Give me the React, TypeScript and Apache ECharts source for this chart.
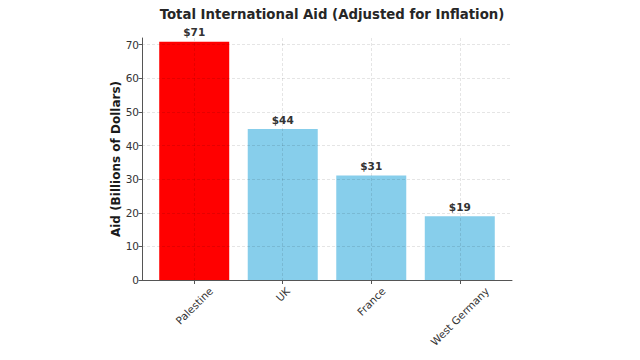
import React, { useEffect, useRef } from "react";
import * as echarts from "echarts";

const categories = ["Palestine", "UK", "France", "West Germany"];
const values = [70.9, 44.9, 31.1, 19.0];
const valueLabels = ["$71", "$44", "$31", "$19"];
const barColors = ["#ff0000", "#87ceeb", "#87ceeb", "#87ceeb"];
const yTicks = [0, 10, 20, 30, 40, 50, 60, 70];
const xPositions = [0, 1, 2, 3];

const FONT = "DejaVu Sans";
const XFS = 10.5;

function measure(text: string, size: number): number {
  const c = document.createElement("canvas").getContext("2d");
  if (!c) return text.length * size * 0.6;
  c.font = `${size}px "${FONT}"`;
  return c.measureText(text).width;
}

export default function App() {
  const ref = useRef<HTMLDivElement>(null);
  useEffect(() => {
    const chart = echarts.init(ref.current!, null, { renderer: "svg" });
    const gridColor = "rgba(0,0,0,0.1)";
    const rich: Record<string, any> = {};
    categories.forEach((c, i) => {
      const w = measure(c, XFS);
      rich["p" + i] = {
        fontFamily: FONT,
        fontSize: XFS,
        color: "#333",
        padding: [w * 0.5, w * 0.5, 0, 0],
      };
    });
    chart.setOption({
      animation: false,
      backgroundColor: "#ffffff",
      title: {
        text: "Total International Aid (Adjusted for Inflation)",
        left: 327,
        textAlign: "center",
        top: 3,
        textStyle: {
          fontFamily: FONT,
          fontSize: 13.3,
          fontWeight: "bold",
          color: "#262626",
        },
      },
      grid: { left: 142, right: 128, top: 38, bottom: 80 },
      xAxis: {
        type: "value",
        min: -0.59,
        max: 3.59,
        z: 10,
        axisLine: { show: true, onZero: false, lineStyle: { color: "#555", width: 1 } },
        axisTick: {
          show: true,
          customValues: xPositions,
          length: 4,
          lineStyle: { color: "#555" },
        },
        axisLabel: {
          customValues: xPositions,
          formatter: (v: number) => {
            const i = Math.round(v);
            return categories[i] ? `{p${i}|${categories[i]}}` : "";
          },
          rich,
          rotate: 45,
          align: "center",
          verticalAlign: "middle",
          fontFamily: FONT,
          fontSize: XFS,
          color: "#333",
          margin: 9,
        },
        splitLine: {
          show: true,
          lineStyle: { color: gridColor, type: [3, 2], width: 1 },
        },
      },
      yAxis: {
        type: "value",
        min: 0,
        max: 72,
        z: 10,
        name: "Aid (Billions of Dollars)",
        nameLocation: "middle",
        nameGap: 20,
        nameMoveOverlap: false,
        nameTextStyle: {
          fontFamily: FONT,
          fontSize: 12,
          fontWeight: "bold",
          color: "#1a1a1a",
        },
        axisLine: { show: true, onZero: false, lineStyle: { color: "#555", width: 1 } },
        axisTick: {
          show: true,
          customValues: yTicks,
          length: 3.5,
          lineStyle: { color: "#555" },
        },
        axisLabel: {
          customValues: yTicks,
          fontFamily: FONT,
          fontSize: 10.5,
          color: "#333",
          margin: 3,
        },
        splitLine: {
          show: true,
          lineStyle: { color: gridColor, type: [3, 2], width: 1 },
        },
      },
      series: [
        {
          type: "bar",
          barWidth: 70,
          data: values.map((v, i) => ({
            value: [xPositions[i], v],
            itemStyle: { color: barColors[i] },
            label: {
              show: true,
              position: "top",
              distance: 4,
              formatter: valueLabels[i],
              fontFamily: FONT,
              fontSize: 10.5,
              fontWeight: "bold",
              color: "#333",
            },
          })),
        },
      ],
    });
    return () => chart.dispose();
  }, []);
  return (
    <div
      ref={ref}
      style={{ position: "absolute", left: 0, top: 0, width: 640, height: 360 }}
    />
  );
}
